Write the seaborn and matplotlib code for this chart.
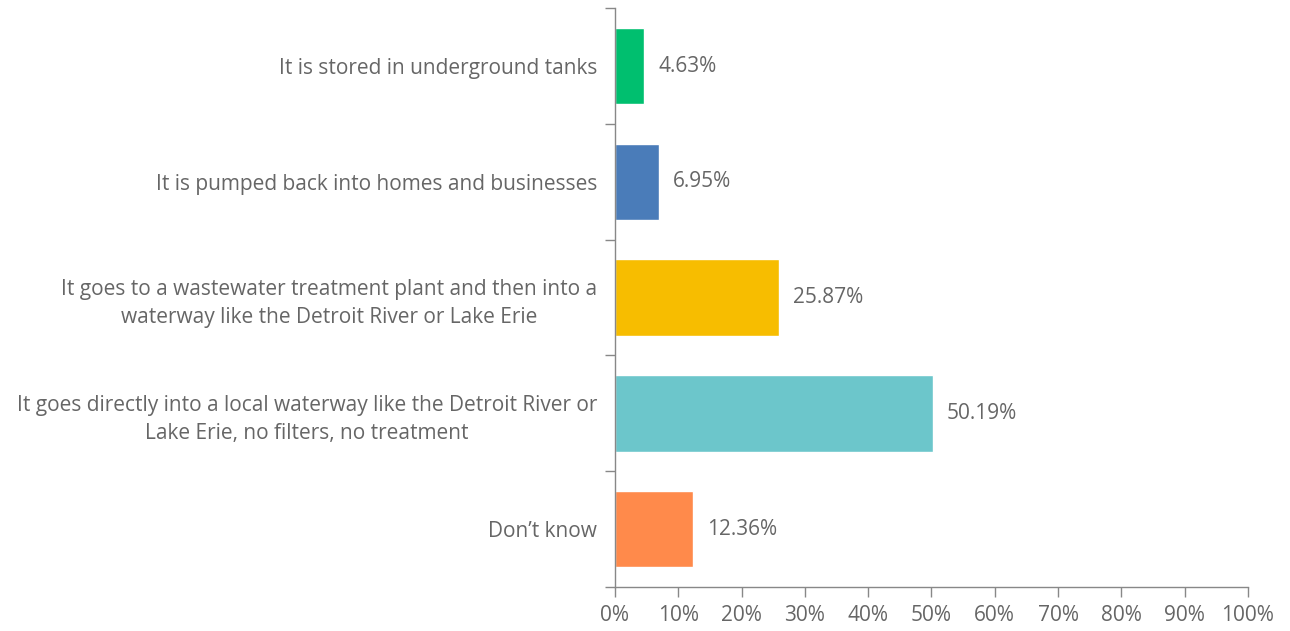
import matplotlib
matplotlib.use("Agg")
import matplotlib.pyplot as plt
import seaborn as sns
import pandas as pd
import numpy as np

categories = [
    "It is stored in underground tanks",
    "It is pumped back into homes and businesses",
    "It goes to a wastewater treatment plant and then into a\nwaterway like the Detroit River or Lake Erie",
    "It goes directly into a local waterway like the Detroit River or\nLake Erie, no filters, no treatment",
    "Don\u2019t know",
]
values = [4.63, 6.95, 25.87, 50.19, 12.36]
colors = ["#00BF6F", "#4A7CB9", "#F7BD00", "#6CC6CB", "#FF8A4B"]
xticks = list(range(0, 101, 10))

sns.set_theme(style="white")
plt.rcParams["font.family"] = ["Open Sans", "DejaVu Sans"]

df = pd.DataFrame({"cat": categories, "val": values})

fig = plt.figure(figsize=(12.9, 6.31), dpi=100)
ax = fig.add_axes([0.4767, 0.0697, 0.9674 - 0.4767, 0.987 - 0.0697])
sns.barplot(data=df, y="cat", x="val", hue="cat", palette=colors, legend=False,
            orient="h", width=0.66, ax=ax, saturation=1)

txt = "#666666"
fs = 15
for i, v in enumerate(values):
    ax.text(v + 2.2, i, f"{v:.2f}%", va="center", ha="left", fontsize=fs, color=txt)

ax.set_xlim(0, 100)
ax.set_ylim(len(categories) - 0.5, -0.5)
ax.set_xticks(xticks)
ax.set_xticklabels([f"{t}%" for t in xticks], fontsize=fs, color=txt)
ax.set_yticks(range(len(categories)))
ax.set_yticklabels(categories, fontsize=fs, color=txt)
for lbl in ax.get_yticklabels():
    lbl.set_ha("right")
    lbl.set_multialignment("center")
    lbl.set_linespacing(1.45)
ax.tick_params(axis="y", which="major", length=0, pad=13)

# minor ticks at category boundaries
ax.set_yticks(np.arange(-0.5, len(categories), 1.0), minor=True)
ax.tick_params(axis="y", which="minor", length=7, width=1, color="#888888", left=True)
ax.tick_params(axis="x", which="major", length=7, width=1, color="#888888", bottom=True, pad=6)

ax.set_xlabel("")
ax.set_ylabel("")
for s in ["top", "right"]:
    ax.spines[s].set_visible(False)
for s in ["left", "bottom"]:
    ax.spines[s].set_color("#888888")
    ax.spines[s].set_linewidth(1)

fig.savefig("out.png", dpi=100)
